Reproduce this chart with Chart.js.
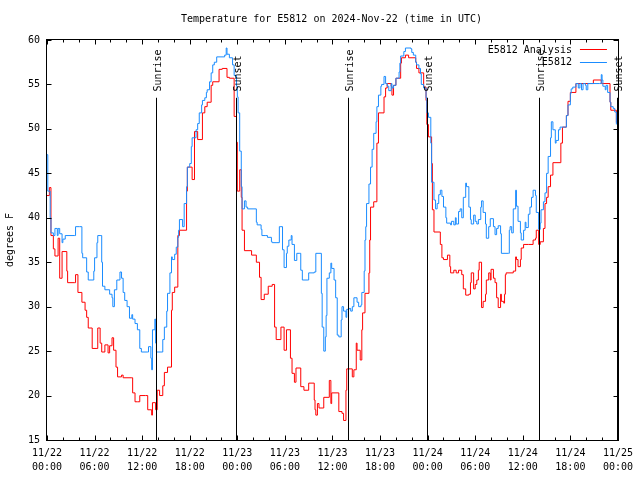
<!DOCTYPE html>
<html><head><meta charset="utf-8">
<script src="https://cdn.jsdelivr.net/npm/chart.js@4"></script>
<style>html,body{margin:0;padding:0;background:#fff}#wrap{width:640px;height:480px}</style>
</head><body><div id="wrap"><canvas id="c" width="640" height="480"></canvas></div>
<script>
const titleText = 'Temperature for E5812 on 2024-Nov-22 (time in UTC)';
const yAxisLabel = 'degrees F';
const seriesNames = ['E5812 Analysis', 'E5812'];
const xTickLabels = [['11/22','00:00'],['11/22','06:00'],['11/22','12:00'],['11/22','18:00'],
  ['11/23','00:00'],['11/23','06:00'],['11/23','12:00'],['11/23','18:00'],
  ['11/24','00:00'],['11/24','06:00'],['11/24','12:00'],['11/24','18:00'],['11/25','00:00']];
const sunEventHours = [13.8, 23.85, 38.0, 47.9, 62.0, 71.9];
const sunEventNames = ['Sunrise','Sunset','Sunrise','Sunset','Sunrise','Sunset'];

// hours since 11/22 00:00 UTC
const analysisHours = [0.0,0.3,0.5,0.8,1.0,1.4,1.6,1.9,2.5,2.6,
3.5,3.6,3.9,4.4,4.8,5.0,5.2,5.7,6.3,6.4,
6.7,6.9,7.3,7.7,7.9,8.2,8.4,8.7,8.9,9.4,
9.6,10.7,10.8,11.1,11.4,11.7,12.4,12.7,13.2,13.3,
13.7,13.9,14.2,14.6,14.8,15.2,15.7,15.8,16.1,16.5,
16.7,17.6,17.7,18.3,18.6,19.0,19.6,19.9,20.2,20.7,
20.9,21.7,22.1,22.7,23.0,23.6,23.9,24.0,24.3,24.5,
24.6,24.9,25.8,26.4,26.8,27.0,27.4,27.9,28.4,28.7,
28.9,29.5,29.9,30.2,30.7,30.9,31.2,31.4,32.0,32.4,
33.0,33.7,33.8,33.9,34.1,34.3,34.9,35.6,35.8,35.9,
36.8,37.2,37.4,37.7,37.8,38.5,38.7,39.0,39.1,39.5,
39.7,39.8,40.1,40.6,40.7,40.8,41.2,41.6,41.8,42.5,
42.7,42.9,43.4,43.5,43.7,44.0,44.6,44.7,45.2,45.6,
46.5,46.6,46.9,47.5,47.8,47.9,48.1,48.5,48.6,48.8,
49.6,49.8,50.0,50.5,50.8,50.9,51.3,51.6,51.9,52.3,
52.5,52.8,53.2,53.4,53.5,53.8,54.0,54.2,54.4,54.5,
54.8,55.0,55.3,55.4,55.7,55.9,56.0,56.3,56.5,56.7,
56.9,57.2,57.3,57.6,57.7,57.8,57.9,58.8,59.1,59.2,
59.4,59.7,59.8,60.1,60.7,61.3,61.6,61.7,62.0,62.2,
62.6,62.8,63.0,63.2,63.5,63.8,64.8,65.0,65.5,65.7,
66.0,66.7,68.9,69.9,71.0,71.1,71.8];
const analysisTemps = [42.5,43.4,38.0,36.5,35.7,37.7,33.2,36.2,34.0,32.7,
32.7,33.6,31.6,30.5,29.6,28.8,27.6,25.3,25.3,27.6,
25.9,24.9,25.7,24.8,25.6,26.5,25.1,23.2,22.1,22.3,
22.0,22.0,20.3,19.3,19.3,20.0,20.0,18.4,17.8,19.2,
18.4,20.6,20.0,21.1,22.6,23.2,29.6,31.6,32.2,38.0,
38.6,43.0,45.7,44.3,49.7,48.8,51.8,52.5,53.0,54.9,
55.3,56.7,56.8,55.8,55.7,51.4,48.5,43.0,45.4,42.3,
38.6,36.3,35.8,35.0,33.3,30.8,31.4,32.3,32.5,27.7,
26.3,27.7,25.1,27.4,24.2,22.5,21.5,23.1,21.0,20.6,
21.4,19.5,18.4,17.8,19.1,18.6,19.8,21.7,19.1,20.3,
18.2,18.0,17.2,20.6,23.0,22.1,22.9,25.9,25.1,24.0,
27.4,29.3,31.5,33.8,37.5,41.2,41.8,48.4,51.8,53.6,
54.6,55.1,54.8,53.8,54.9,55.7,57.4,58.0,58.3,58.0,
57.5,56.8,56.3,54.7,53.2,50.5,49.1,46.1,40.9,38.4,
37.0,35.5,35.3,35.8,34.5,33.8,34.1,33.8,34.1,33.6,
32.0,31.3,31.4,32.7,33.8,32.0,32.5,33.0,34.1,35.0,
29.9,30.6,31.4,33.0,33.8,33.0,34.2,33.2,32.7,31.0,
29.9,31.4,30.6,30.4,31.4,33.6,33.8,34.0,35.6,35.3,
34.5,35.3,36.6,37.0,37.0,37.5,37.7,38.6,37.0,37.3,
38.8,41.6,42.3,43.5,44.8,46.2,48.4,50.2,51.5,53.1,
54.1,55.1,55.5,55.1,53.0,52.1,50.7];

const stationHours = [0.0,0.1,0.4,0.5,0.8,1.0,1.3,1.4,1.6,1.9,
2.0,2.3,3.5,3.6,4.1,4.4,4.5,5.0,5.2,5.8,
5.9,6.0,6.3,6.4,6.7,6.9,7.0,7.3,7.9,8.2,
8.3,8.5,8.8,9.2,9.4,9.6,9.8,10.1,10.4,10.7,
10.8,11.1,11.4,11.7,11.9,12.7,12.8,13.1,13.2,13.3,
13.6,13.7,13.8,14.5,14.6,14.8,15.1,15.2,15.5,15.7,
15.8,16.1,16.3,16.5,16.6,16.7,17.1,17.3,17.6,17.7,
18.0,18.2,18.3,18.8,19.0,19.2,19.5,19.6,19.9,20.1,
20.2,20.5,20.7,20.9,21.1,21.4,22.4,22.6,22.7,23.0,
23.4,23.6,23.9,24.0,24.1,24.3,24.5,24.6,24.9,25.1,
25.3,26.1,26.4,26.5,27.0,27.1,27.6,27.8,28.3,28.4,
29.0,29.3,29.5,29.7,29.9,30.2,30.3,30.5,30.8,30.9,
31.2,31.4,31.5,31.8,32.0,32.2,32.8,33.0,33.7,33.9,
34.3,34.6,34.7,34.9,35.1,35.2,35.3,35.6,35.8,35.9,
36.2,36.4,36.6,36.8,37.1,37.2,37.4,37.7,37.8,38.1,
38.3,38.5,38.7,39.1,39.3,39.6,39.7,40.0,40.1,40.2,
40.3,40.6,40.8,41.0,41.2,41.5,41.6,41.8,42.1,42.2,
42.5,42.7,42.9,43.1,43.4,43.5,43.7,44.0,44.4,44.5,
44.6,45.0,45.2,45.9,46.0,46.2,46.5,46.6,46.9,47.1,
47.2,47.5,47.8,47.9,48.1,48.4,48.5,48.8,49.0,49.2,
49.4,49.6,49.8,50.0,50.3,50.4,50.9,51.0,51.3,51.5,
51.6,51.9,52.1,52.3,52.5,52.8,52.9,53.2,53.4,53.5,
53.8,54.0,54.2,54.4,54.7,54.8,55.0,55.3,55.4,55.7,
55.9,56.3,56.5,56.7,56.9,57.2,57.3,58.2,58.3,58.4,
58.6,58.8,59.1,59.2,59.4,59.7,59.8,60.1,60.3,60.4,
60.7,60.9,61.1,61.3,61.6,61.7,62.0,62.2,62.3,62.6,
62.8,63.0,63.2,63.5,63.6,63.8,64.1,64.2,64.5,64.7,
65.3,65.5,65.7,66.0,66.1,66.3,66.7,67.0,67.2,67.4,
67.6,67.9,68.0,68.2,69.7,69.9,70.0,70.1,70.4,70.5,
70.7,71.0,71.1,71.4,71.6,71.8];
const stationTemps = [47.1,43.0,40.0,38.3,38.0,38.8,38.0,38.8,38.2,37.2,
37.6,38.0,38.0,39.0,39.0,36.0,35.5,33.9,33.0,33.0,
34.0,35.5,37.2,38.0,38.0,35.0,32.3,31.9,31.4,31.0,
30.0,31.9,33.0,33.9,33.2,31.6,30.7,30.0,28.7,29.1,
28.6,28.1,27.4,25.3,24.9,24.9,25.5,24.2,22.9,27.4,
28.6,25.9,24.9,24.9,26.3,27.7,29.5,31.5,33.8,35.6,
35.3,35.9,36.7,37.8,38.6,39.8,39.0,41.6,43.5,45.7,
46.1,48.0,49.0,49.9,50.6,51.8,52.7,53.2,53.5,54.1,
54.4,55.3,56.3,57.2,57.5,58.1,58.3,59.1,58.4,58.0,
57.2,56.0,54.8,53.6,51.8,47.5,43.5,41.0,41.9,41.2,
41.0,41.0,39.5,39.2,38.7,38.0,38.0,37.8,37.3,37.2,
37.2,39.0,39.0,36.4,34.4,36.0,36.8,37.5,38.0,37.0,
35.2,35.2,36.0,36.0,34.1,33.0,33.0,33.8,33.9,36.0,
36.0,31.5,27.7,25.0,26.6,29.0,33.2,33.8,34.9,34.3,
33.0,31.0,26.8,26.6,28.5,30.0,29.5,28.8,29.7,29.8,
29.5,30.0,31.0,30.5,30.0,30.2,31.6,34.0,37.5,39.0,
41.6,43.8,45.7,47.7,49.5,50.8,52.5,53.8,54.8,55.0,
55.9,55.1,54.8,54.3,55.1,54.6,54.9,55.7,56.4,57.4,
58.2,58.7,59.1,59.0,58.6,58.3,57.5,57.2,56.8,56.2,
55.0,54.6,53.5,51.8,51.3,48.4,44.0,42.0,41.0,41.6,
42.6,43.1,42.4,41.2,40.0,39.4,39.2,39.6,39.2,40.0,
39.3,40.7,41.0,40.0,42.3,43.9,43.5,41.2,39.8,39.3,
40.3,39.6,39.3,39.8,41.2,41.9,40.6,39.3,37.7,39.0,
39.9,39.0,38.1,38.8,39.1,38.2,36.0,36.0,38.6,39.0,
38.3,41.0,43.1,41.3,39.6,38.3,37.5,38.6,39.5,38.9,
40.4,41.2,42.3,43.1,42.5,40.6,38.7,39.4,40.9,41.8,
42.8,45.0,46.9,49.0,50.8,49.9,48.4,48.7,49.9,50.2,
50.2,51.5,52.7,54.0,54.5,54.7,55.1,54.6,55.1,54.4,
55.1,54.9,54.4,55.1,55.1,56.1,55.5,54.8,54.4,54.9,
54.1,53.0,52.5,52.3,51.9,50.5];

const FONT = '"DejaVu Sans Mono", "Liberation Mono", monospace';
const sunLineTop = 53.5;
const sunLabelBase = 54.2;

const decorPlugin = {
  id: 'decor',
  afterDatasetsDraw(chart) {
    const ctx = chart.ctx, xs = chart.scales.x, ys = chart.scales.y, a = chart.chartArea;
    ctx.save();
    ctx.strokeStyle = '#000'; ctx.lineWidth = 1; ctx.fillStyle = '#000';
    ctx.font = '10px ' + FONT;
    // title, centred over the plot box
    ctx.textAlign = 'center'; ctx.textBaseline = 'middle';
    ctx.fillText(titleText, (a.left + a.right) / 2 - 1, a.top - 21);
    // sunrise / sunset markers
    sunEventHours.forEach((h, i) => {
      const px = Math.round(xs.getPixelForValue(h)) + 0.5;
      ctx.beginPath();
      ctx.moveTo(px, ys.getPixelForValue(15));
      ctx.lineTo(px, ys.getPixelForValue(sunLineTop));
      ctx.stroke();
      ctx.save();
      ctx.translate(px + 1.5, ys.getPixelForValue(sunLabelBase));
      ctx.rotate(-Math.PI / 2);
      ctx.textAlign = 'left'; ctx.textBaseline = 'middle';
      ctx.fillText(sunEventNames[i], 0, 0);
      ctx.restore();
    });
    // frame
    const L = Math.round(a.left) - 0.5, R = Math.round(a.right) + 0.5;
    const T = Math.round(a.top) - 0.5, B = Math.round(a.bottom) + 0.5;
    ctx.strokeRect(L, T, R - L, B - T);
    // ticks (inward, mirrored)
    ctx.beginPath();
    for (let v = 0; v <= 72; v += 2) {
      const px = Math.round(xs.getPixelForValue(v)) + 0.5;
      const len = (v % 6 === 0) ? 5 : 3;
      ctx.moveTo(px, B); ctx.lineTo(px, B - len);
      ctx.moveTo(px, T); ctx.lineTo(px, T + len);
    }
    for (let v = 15; v <= 60; v += 5) {
      const py = Math.round(ys.getPixelForValue(v)) + 0.5;
      ctx.moveTo(L, py); ctx.lineTo(L + 5, py);
      ctx.moveTo(R, py); ctx.lineTo(R - 5, py);
    }
    ctx.stroke();
    // legend
    ctx.textAlign = 'right'; ctx.textBaseline = 'middle';
    chart.data.datasets.forEach((ds, i) => {
      const yy = a.top + 10 + i * 12.5;
      ctx.fillStyle = '#000';
      ctx.fillText(ds.label, a.right - 46, yy);
      ctx.strokeStyle = ds.borderColor;
      ctx.beginPath();
      ctx.moveTo(a.right - 38, Math.round(yy) - 0.5);
      ctx.lineTo(a.right - 11, Math.round(yy) - 0.5);
      ctx.stroke();
    });
    ctx.restore();
  }
};

new Chart(document.getElementById('c'), {
  type: 'line',
  data: {
    datasets: [
      { label: seriesNames[0], data: analysisHours.map((h, i) => ({x: h, y: analysisTemps[i]})),
        borderColor: '#ff0000', borderWidth: 1, pointRadius: 0, stepped: true, fill: false, order: 1 },
      { label: seriesNames[1], data: stationHours.map((h, i) => ({x: h, y: stationTemps[i]})),
        borderColor: '#1a8cff', borderWidth: 1, pointRadius: 0, stepped: true, fill: false, order: 0 }
    ]
  },
  options: {
    responsive: false, animation: false, devicePixelRatio: 1,
    layout: { padding: { left: 0, right: 20, top: 40, bottom: 0 } },
    plugins: {
      legend: { display: false },
      tooltip: { enabled: false },
      title: { display: false }
    },
    scales: {
      x: {
        type: 'linear', min: 0, max: 72,
        grid: { display: false, drawTicks: false }, border: { display: false },
        ticks: { stepSize: 6, autoSkip: false, maxRotation: 0, color: '#000', padding: 7,
          font: { family: FONT, size: 10, lineHeight: 1.35 },
          callback: (v) => xTickLabels[Math.round(v / 6)] },
        afterFit: (s) => { s.height = 40; }
      },
      y: {
        min: 15, max: 60,
        grid: { display: false, drawTicks: false }, border: { display: false },
        ticks: { stepSize: 5, color: '#000', padding: 7, font: { family: FONT, size: 10 } },
        title: { display: true, text: yAxisLabel, color: '#000', font: { family: FONT, size: 10 },
          padding: { top: 4, bottom: 0 } },
        afterFit: (s) => { s.width = 47; }
      }
    }
  },
  plugins: [decorPlugin]
});
</script></body></html>
